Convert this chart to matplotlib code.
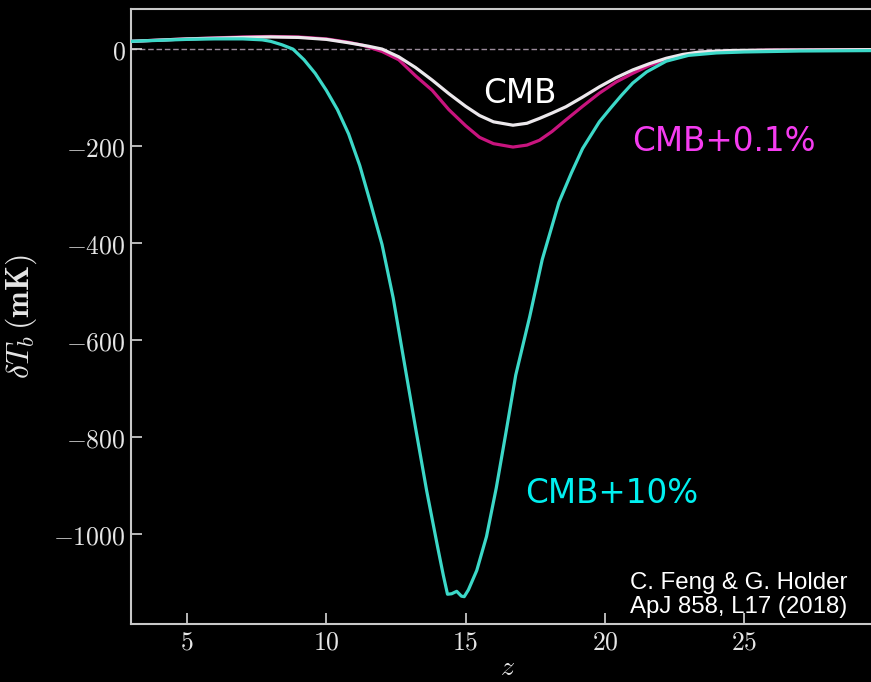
import matplotlib
matplotlib.use("Agg")
import matplotlib.pyplot as plt

plt.rcParams["mathtext.fontset"] = "cm"

# Redshift samples and brightness temperature (mK) for each model
z_cmb10 = [3.0, 4.0, 5.0, 6.0, 7.0, 7.7, 8.0, 8.4, 8.8, 9.2, 9.6, 10.0, 10.4, 10.8,
           11.2, 11.6, 12.0, 12.4, 12.8, 13.2, 13.6, 14.0, 14.2, 14.35, 14.5, 14.68,
           14.85, 14.95, 15.1, 15.4, 15.75, 16.1, 16.45, 16.8, 17.3, 17.75, 18.35,
           18.8, 19.2, 19.8, 20.2, 20.6, 21.0, 21.5, 22.2, 23.0, 24.0, 25.0, 27.0, 30.0]
dT_cmb10 = [16, 18, 20, 21, 21, 19, 16, 9, 0, -22, -50, -85, -125, -175,
            -240, -320, -403, -513, -647, -780, -910, -1028, -1085, -1124, -1123, -1118,
            -1128, -1129, -1115, -1075, -1005, -905, -790, -672, -552, -434, -316,
            -255, -205, -150, -122, -95, -70, -47, -25, -13, -8, -6, -4, -3]

z_cmb = [3.0, 5.0, 7.0, 8.0, 9.0, 10.0, 10.8, 11.5, 12.0, 12.6, 13.2, 13.8, 14.4,
         15.0, 15.5, 16.0, 16.7, 17.2, 17.65, 18.1, 18.6, 19.2, 19.8, 20.4, 21.0,
         21.6, 22.2, 22.8, 23.4, 24.5, 26.0, 30.0]
dT_cmb = [16, 21, 24, 25, 24, 20, 13, 6, 0, -16, -38, -64, -92,
          -118, -137, -150, -157, -153, -143, -132, -119, -99, -78, -59, -43,
          -30, -19, -11, -6, -3, -2, -1]

z_cmb01 = [3.0, 5.0, 7.0, 8.0, 9.0, 10.0, 10.8, 11.3, 12.0, 12.6, 13.2, 13.8, 14.4,
           15.0, 15.5, 16.0, 16.7, 17.2, 17.65, 18.1, 18.6, 19.2, 19.8, 20.4, 21.0,
           21.6, 22.2, 22.8, 23.4, 24.5, 26.0, 30.0]
dT_cmb01 = [16, 21, 25, 26, 25, 21, 14, 8, -5, -22, -55, -85, -125,
            -158, -182, -195, -202, -198, -188, -170, -146, -118, -91, -68, -50,
            -34, -22, -13, -8, -4, -2, -1]

x_ticks = [5, 10, 15, 20, 25]
y_ticks = [0, -200, -400, -600, -800, -1000]

fg = "#d8d8d8"
fig = plt.figure(figsize=(8.71, 6.82), dpi=100, facecolor="black")
ax = fig.add_axes([131.3 / 871, 1 - 624.3 / 682, (883.5 - 131.3) / 871, (624.3 - 9.3) / 682])
ax.set_facecolor("black")

ax.axhline(0, color="#9a8a9a", lw=1.0, ls=(0, (4, 2)), zorder=1)
ax.plot(z_cmb01, dT_cmb01, color="#c8147e", lw=2.3, zorder=2)
ax.plot(z_cmb, dT_cmb, color="#ece8ec", lw=2.3, zorder=3)
ax.plot(z_cmb10, dT_cmb10, color="#3cd8c8", lw=2.3, zorder=4)

ax.set_xlim(3, 30)
ax.set_ylim(-1186, 82)

ax.set_xticks(x_ticks)
ax.set_xticklabels([f"${v}$" for v in x_ticks])
ax.set_yticks(y_ticks)
ax.set_yticklabels([f"${v}$" for v in y_ticks])
ax.tick_params(direction="in", length=8, width=1.2, colors=fg, labelsize=18.5,
               labelcolor="#e6e6e6", pad=4)
for side in ["left", "bottom", "top"]:
    ax.spines[side].set_color("#c8c8c8")
    ax.spines[side].set_linewidth(1.5)
ax.spines["right"].set_visible(False)

ax.set_xlabel("$z$", color="#e6e6e6", fontsize=20, labelpad=-2)
ax.set_ylabel(r"$\delta T_b\,(\mathbf{mK})$", color="#e6e6e6", fontsize=23, labelpad=10)

ax.text(16.96, -92, "CMB", color="white", fontsize=23.5, ha="center", va="center",
        family="DejaVu Sans")
ax.text(24.28, -190, "CMB+0.1%", color="#f53cf0", fontsize=23.5, ha="center", va="center",
        family="DejaVu Sans")
ax.text(20.24, -917, "CMB+10%", color="#00f0f0", fontsize=23.5, ha="center", va="center",
        family="DejaVu Sans")
fig.text(630 / 871, 1 - 595 / 682, "C. Feng & G. Holder\nApJ 858, L17 (2018)",
         color="white", fontsize=17.3, ha="left", va="center", family="Liberation Sans",
         linespacing=1.15)

fig.savefig("out.png", dpi=100, facecolor="black")
